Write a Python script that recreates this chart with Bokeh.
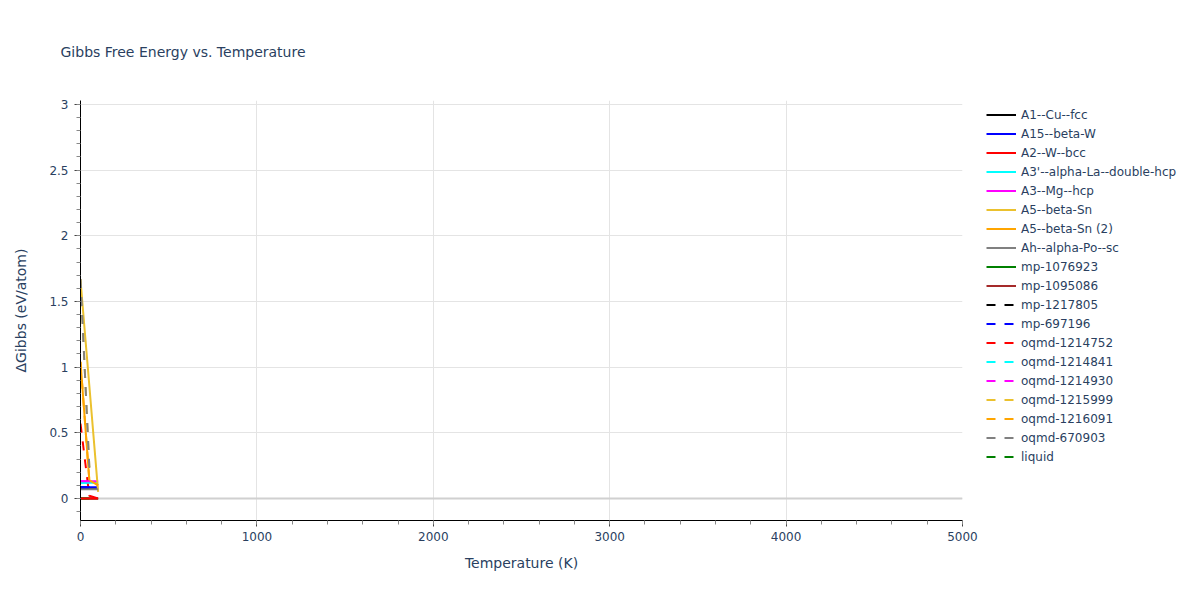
from bokeh.plotting import figure
from bokeh.models import (Legend, LegendItem, Span, Range1d, FixedTicker, Title)
from bokeh.embed import file_html
from bokeh.resources import INLINE

# ---------------- data ----------------
temperature = [0, 50, 100]

series_names = [
    "A1--Cu--fcc", "A15--beta-W", "A2--W--bcc", "A3'--alpha-La--double-hcp",
    "A3--Mg--hcp", "A5--beta-Sn", "A5--beta-Sn (2)", "Ah--alpha-Po--sc",
    "mp-1076923", "mp-1095086", "mp-1217805", "mp-697196",
    "oqmd-1214752", "oqmd-1214841", "oqmd-1214930", "oqmd-1215999",
    "oqmd-1216091", "oqmd-670903", "liquid",
]

A1_Cu_fcc = [0.075, 0.075, 0.075]
A15_beta_W = [0.085, 0.085, 0.085]
A2_W_bcc = [0.0, 0.0, 0.0]
A3p_alpha_La = [0.12, 0.12, 0.12]
A3_Mg_hcp = [0.13, 0.13, 0.13]
A5_beta_Sn = [1.66, 0.86, 0.05]
A5_beta_Sn_2 = [1.04, 0.14, 0.10]
Ah_alpha_Po_sc = [0.07, 0.07, 0.07]
mp_1076923 = [0.0, 0.0, 0.0]
mp_1095086 = [0.0, 0.0, 0.0]
mp_1217805 = [0.085, 0.085, 0.085]
mp_697196 = [0.085, 0.085, 0.085]
oqmd_1214752 = [0.57, 0.02, 0.0]
oqmd_1214841 = [0.12, 0.12, 0.12]
oqmd_1214930 = [0.13, 0.13, 0.13]
oqmd_1215999 = [1.67, 0.24, 0.23]
oqmd_1216091 = [1.04, 0.14, 0.10]
oqmd_670903 = [1.67, 0.24, 0.23]
liquid = [0.0, 0.0, 0.0]

series_values = [
    A1_Cu_fcc, A15_beta_W, A2_W_bcc, A3p_alpha_La, A3_Mg_hcp, A5_beta_Sn,
    A5_beta_Sn_2, Ah_alpha_Po_sc, mp_1076923, mp_1095086, mp_1217805,
    mp_697196, oqmd_1214752, oqmd_1214841, oqmd_1214930, oqmd_1215999,
    oqmd_1216091, oqmd_670903, liquid,
]

colors = ["black", "blue", "red", "cyan", "magenta", "#EBC12E", "orange",
          "gray", "green", "brown",
          "black", "blue", "red", "cyan", "magenta", "#EBC12E", "orange",
          "gray", "green"]
dashed = [False] * 10 + [True] * 9

x_ticks = [0, 1000, 2000, 3000, 4000, 5000]
y_ticks = [0, 0.5, 1, 1.5, 2, 2.5, 3]

FONT = "DejaVu Sans"
TXT = "#2a3f5f"

# ---------------- figure ----------------
p = figure(frame_width=882, frame_height=420, output_backend="svg",
           toolbar_location=None,
           x_range=Range1d(0, 5000), y_range=Range1d(-0.168, 3.03),
           min_border_left=80, min_border_right=10, min_border_top=100,
           min_border_bottom=64, background_fill_color="white",
           border_fill_color="white", outline_line_color=None)

p.title = Title(text="Gibbs Free Energy vs. Temperature", align="left",
                offset=-20, standoff=82, text_font=FONT, text_font_size="14px",
                text_font_style="normal", text_color=TXT)

p.xaxis.ticker = FixedTicker(ticks=x_ticks,
                             minor_ticks=list(range(0, 5001, 200)))
p.yaxis.ticker = FixedTicker(ticks=y_ticks,
                             minor_ticks=[round(-0.1 + 0.1 * i, 2) for i in range(32)])

for ax in (p.xaxis[0], p.yaxis[0]):
    ax.axis_line_color = "black"
    ax.axis_line_width = 1
    ax.major_tick_line_color = "#444444"
    ax.minor_tick_line_color = "#888888"
    ax.major_tick_out = 6
    ax.major_tick_in = 0
    ax.minor_tick_out = 4
    ax.minor_tick_in = 0
    ax.major_label_text_font = FONT
    ax.major_label_text_font_size = "12px"
    ax.major_label_text_color = TXT
    ax.axis_label_text_font = FONT
    ax.axis_label_text_font_size = "14px"
    ax.axis_label_text_font_style = "normal"
    ax.axis_label_text_color = TXT

p.xaxis.axis_label = "Temperature (K)"
p.yaxis.axis_label = "\u0394Gibbs (eV/atom)"
p.xaxis.major_label_standoff = 5
p.xaxis.axis_label_standoff = 11
p.yaxis.major_label_standoff = 6
p.yaxis.axis_label_standoff = 17

p.xgrid.grid_line_color = "#e4e4e4"
p.ygrid.grid_line_color = "#e4e4e4"
p.xgrid.grid_line_width = 1
p.ygrid.grid_line_width = 1

zero = Span(location=0, dimension="width", line_color="#d0d0d0",
            line_width=2, level="underlay")
p.add_layout(zero)

# draw hidden series first so the visible ones sit on top
draw_order = [8, 9, 18, 10, 0, 1, 2, 3, 4, 5, 6, 7, 11, 12, 13, 14, 15, 16, 17]
renderers = {}
for i in draw_order:
    kw = dict(line_color=colors[i], line_width=2)
    if dashed[i]:
        kw["line_dash"] = "9 9"
    renderers[i] = p.line(temperature, series_values[i], **kw)

items = [LegendItem(label=series_names[i], renderers=[renderers[i]])
         for i in range(len(series_names))]
legend = Legend(items=items, location=(24, 54), orientation="vertical",
                label_text_font=FONT, label_text_font_size="12px",
                label_text_color=TXT, glyph_width=30, glyph_height=19,
                label_height=19, spacing=0, padding=0, margin=0,
                label_standoff=5, border_line_color=None,
                background_fill_alpha=0)
p.add_layout(legend, "right")

open("out.html", "w").write(file_html(p, INLINE))
